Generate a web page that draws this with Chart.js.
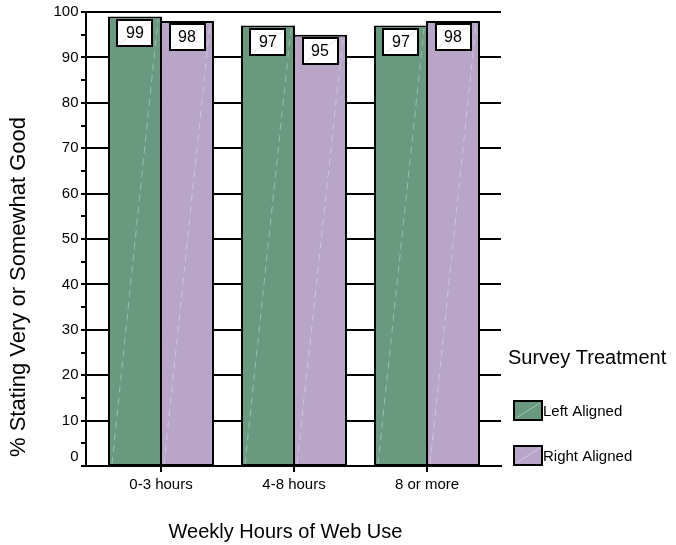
<!DOCTYPE html>
<html>
<head>
<meta charset="utf-8">
<script src="https://cdn.jsdelivr.net/npm/chart.js@4/dist/chart.umd.min.js"></script>
<style>
  html, body { margin: 0; padding: 0; background: #fff; }
  #wrap { width: 676px; height: 545px; }
</style>
</head>
<body>
<div id="wrap"><canvas id="c" width="676" height="545"></canvas></div>
<script>
// Share rating "very or somewhat good" by weekly hours of web use
const categories = ['0-3 hours', '4-8 hours', '8 or more'];
const leftAligned = [99, 97, 97];
const rightAligned = [98, 95, 98];
const seriesNames = ['Left Aligned', 'Right Aligned'];
const yTickLabels = ['0', '10', '20', '30', '40', '50', '60', '70', '80', '90', '100'];

const xTitle = 'Weekly Hours of Web Use';
const yTitle = '% Stating Very or Somewhat Good';
const legendTitle = 'Survey Treatment';

const FONT = "'Liberation Sans', Arial, Helvetica, sans-serif";
const GREEN = '#699A80';
const PURPLE = '#B8A5C8';

function line(ctx, x1, y1, x2, y2) {
  ctx.beginPath();
  ctx.moveTo(x1, y1);
  ctx.lineTo(x2, y2);
  ctx.stroke();
}

// Axis frame, gridlines, value boxes, legend and titles
const framePlugin = {
  id: 'frame',
  beforeDatasetsDraw(chart) {
    const { ctx, chartArea: a, scales: { y } } = chart;
    const axisX = a.left - 8.5;
    const rightX = a.right + 7.5;
    ctx.save();
    ctx.strokeStyle = '#000';
    ctx.lineWidth = 2;
    y.ticks.forEach(t => {
      if (t.value === y.min) return;
      const py = Math.round(y.getPixelForValue(t.value));
      line(ctx, axisX, py, rightX, py);
    });
    const step = (y.max - y.min) / (yTickLabels.length - 1);
    for (let v = y.min; v <= y.max + 1e-9; v += step / 2) {
      const py = Math.round(y.getPixelForValue(v));
      line(ctx, axisX - 5, py, axisX, py);
    }
    line(ctx, axisX, Math.round(y.getPixelForValue(y.max)) - 1, axisX, Math.round(y.getPixelForValue(y.min)) + 1);
    ctx.restore();
  },
  afterDatasetsDraw(chart) {
    const { ctx, chartArea: a, scales: { x, y } } = chart;
    const axisX = a.left - 8.5;
    const rightX = a.right + 8.5;
    const baseY = Math.round(y.getPixelForValue(0));
    ctx.save();

    // faint diagonal streaks inside the bars
    chart.data.datasets.forEach((ds, i) => {
      chart.getDatasetMeta(i).data.forEach(bar => {
        const p = bar.getProps(['x', 'y', 'width', 'base'], true);
        ctx.strokeStyle = 'rgba(255,255,255,0.35)';
        ctx.lineWidth = 1;
        ctx.setLineDash([7, 5]);
        line(ctx, p.x - p.width / 2 + 4, p.base - 2, p.x + p.width / 2 - 4, p.y + 3);
        ctx.setLineDash([]);
      });
    });

    // x axis
    ctx.strokeStyle = '#000';
    ctx.lineWidth = 2;
    line(ctx, axisX - 1, baseY, rightX, baseY);
    categories.forEach((c, i) => {
      const px = Math.round(x.getPixelForValue(i));
      line(ctx, px, baseY, px, baseY + 6);
    });

    // value boxes on top of each bar
    chart.data.datasets.forEach((ds, i) => {
      chart.getDatasetMeta(i).data.forEach((bar, j) => {
        const p = bar.getProps(['x', 'y'], true);
        const w = 37, h = 28;
        const bx = Math.round(p.x - w / 2), by = Math.round(p.y + 2);
        ctx.fillStyle = '#fff';
        ctx.fillRect(bx, by, w, h);
        ctx.strokeStyle = 'rgba(0,0,0,0.12)';
        ctx.lineWidth = 1;
        line(ctx, bx + 3, by + h - 3, bx + w - 3, by + 3);
        ctx.strokeStyle = '#000';
        ctx.lineWidth = 2;
        ctx.strokeRect(bx + 1, by + 1, w - 2, h - 2);
        ctx.fillStyle = '#000';
        ctx.font = '16px ' + FONT;
        ctx.textAlign = 'center';
        ctx.textBaseline = 'middle';
        ctx.fillText(String(ds.data[j]), p.x, by + h / 2 + 1);
      });
    });
    ctx.restore();
  },
  afterDraw(chart) {
    const { ctx, chartArea: a } = chart;
    ctx.save();
    ctx.fillStyle = '#000';

    // axis titles
    ctx.font = '20px ' + FONT;
    ctx.textAlign = 'center';
    ctx.textBaseline = 'middle';
    ctx.fillText(xTitle, a.left + 191, 532);
    ctx.save();
    ctx.translate(19, 287);
    ctx.rotate(-Math.PI / 2);
    ctx.font = '22px ' + FONT;
    ctx.fillText(yTitle, 0, 0);
    ctx.restore();

    // legend
    ctx.textAlign = 'left';
    ctx.fillText(legendTitle, 508, 358);
    chart.data.datasets.forEach((ds, i) => {
      const cy = 410.5 + i * 44.5;
      const bx = 513, bw = 30, bh = 21;
      const top = Math.round(cy - bh / 2);
      ctx.fillStyle = ds.backgroundColor;
      ctx.fillRect(bx, top, bw, bh);
      ctx.strokeStyle = 'rgba(255,255,255,0.4)';
      ctx.lineWidth = 1;
      line(ctx, bx + 3, top + bh - 3, bx + bw - 3, top + 3);
      ctx.strokeStyle = '#000';
      ctx.lineWidth = 2;
      ctx.strokeRect(bx + 1, top + 1, bw - 2, bh - 2);
      ctx.fillStyle = '#000';
      ctx.font = '15px ' + FONT;
      ctx.textBaseline = 'middle';
      ctx.fillText(ds.label, bx + bw, cy + 1.5);
      ctx.font = '20px ' + FONT;
    });
    ctx.restore();
  }
};

new Chart(document.getElementById('c').getContext('2d'), {
  type: 'bar',
  data: {
    labels: categories,
    datasets: [
      { label: seriesNames[0], data: leftAligned, backgroundColor: GREEN, borderColor: '#000', borderWidth: 2, borderSkipped: false },
      { label: seriesNames[1], data: rightAligned, backgroundColor: PURPLE, borderColor: '#000', borderWidth: 2, borderSkipped: false }
    ]
  },
  options: {
    responsive: false,
    animation: false,
    devicePixelRatio: 1,
    layout: { padding: { top: 12, right: 182.5, left: 0, bottom: 0 } },
    datasets: { bar: { categoryPercentage: 0.782, barPercentage: 1.038 } },
    plugins: { legend: { display: false }, tooltip: { enabled: false }, title: { display: false } },
    scales: {
      x: {
        grid: { display: false, drawTicks: false },
        border: { display: false },
        ticks: { font: { family: FONT, size: 15 }, color: '#000', padding: 10, maxRotation: 0, autoSkip: false },
        afterFit: s => { s.height = 79; s.paddingLeft = 0; s.paddingRight = 0; }
      },
      y: {
        min: 0,
        max: 100,
        grid: { display: false, drawTicks: false },
        border: { display: false },
        ticks: {
          stepSize: 10,
          font: { family: FONT, size: 15 },
          color: '#000',
          padding: 16,
          callback: (v, i) => i === 0 ? [yTickLabels[i], ''] : yTickLabels[i]
        },
        afterFit: s => { s.width = 94.5; s.paddingTop = 0; s.paddingBottom = 0; }
      }
    }
  },
  plugins: [framePlugin]
});
</script>
</body>
</html>
